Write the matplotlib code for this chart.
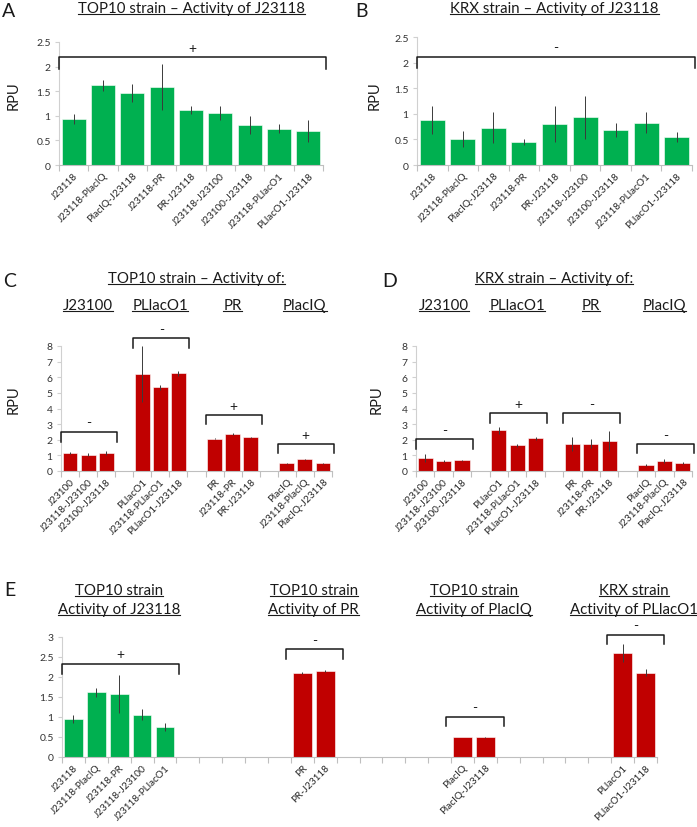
import numpy as np
import matplotlib
matplotlib.use("Agg")
import matplotlib.pyplot as plt
from matplotlib.lines import Line2D
from matplotlib.transforms import blended_transform_factory

plt.rcParams['font.family'] = ['Lato', 'DejaVu Sans']
plt.rcParams['text.color'] = '#1a1a1a'

GREEN = '#00B050'
RED = '#C00000'

# A / B : J23118 in every construct
j_labels = ['J23118', 'J23118-PlacIQ', 'PlacIQ-J23118', 'J23118-PR', 'PR-J23118',
            'J23118-J23100', 'J23100-J23118', 'J23118-PLlacO1', 'PLlacO1-J23118']
top10_rpu = [0.94, 1.62, 1.46, 1.58, 1.12, 1.06, 0.82, 0.74, 0.69]
top10_err = [0.10, 0.11, 0.18, 0.47, 0.08, 0.14, 0.18, 0.09, 0.23]
krx_rpu = [0.88, 0.51, 0.73, 0.45, 0.80, 0.93, 0.68, 0.83, 0.55]
krx_err = [0.28, 0.16, 0.30, 0.06, 0.36, 0.42, 0.14, 0.21, 0.10]

# C / D : the partner promoters
prom_names = ['J23100', 'PLlacO1', 'PR', 'PlacIQ']
prom_labels = [['J23100', 'J23118-J23100', 'J23100-J23118'],
               ['PLlacO1', 'J23118-PLlacO1', 'PLlacO1-J23118'],
               ['PR', 'J23118-PR', 'PR-J23118'],
               ['PlacIQ', 'J23118-PlacIQ', 'PlacIQ-J23118']]
top10_prom_rpu = [[1.15, 1.05, 1.15], [6.22, 5.35, 6.25], [2.08, 2.36, 2.15], [0.50, 0.74, 0.50]]
top10_prom_err = [[0.05, 0.12, 0.10], [1.80, 0.15, 0.18], [0.04, 0.08, 0.05], [0.03, 0.05, 0.03]]
top10_prom_sig = ['-', '-', '+', '+']
krx_prom_rpu = [[0.85, 0.65, 0.68], [2.60, 1.65, 2.10], [1.75, 1.75, 1.92], [0.37, 0.65, 0.50]]
krx_prom_err = [[0.25, 0.08, 0.05], [0.22, 0.10, 0.10], [0.45, 0.30, 0.65], [0.08, 0.15, 0.08]]
krx_prom_sig = ['-', '+', '-', '-']

# E : summary
e_titles = [['TOP10 strain', 'Activity of J23118'], ['TOP10 strain', 'Activity of PR'],
            ['TOP10 strain', 'Activity of PlacIQ'], ['KRX strain', 'Activity of PLlacO1']]
e_labels = [['J23118', 'J23118-PlacIQ', 'J23118-PR', 'J23118-J23100', 'J23118-PLlacO1'],
            ['PR', 'PR-J23118'], ['PlacIQ', 'PlacIQ-J23118'], ['PLlacO1', 'PLlacO1-J23118']]
e_rpu = [[0.95, 1.62, 1.58, 1.06, 0.75], [2.10, 2.15], [0.50, 0.49], [2.60, 2.11]]
e_err = [[0.10, 0.11, 0.47, 0.14, 0.09], [0.02, 0.02], [0.01, 0.01], [0.22, 0.09]]
e_sig = ['+', '-', '-', '-']
e_colors = [GREEN, RED, RED, RED]

W, H = 697, 828
fig = plt.figure(figsize=(W / 100, H / 100), dpi=100)
underline = []


def box(left, top, right, bottom):
    return [left / W, 1 - bottom / H, (right - left) / W, (bottom - top) / H]


def style(ax, ymax, step):
    ax.set_ylim(0, ymax)
    ax.set_yticks(np.arange(0, ymax + step / 2, step))
    ax.yaxis.set_major_formatter(plt.FuncFormatter(lambda v, p: '%g' % v))
    for s in ['top', 'right']:
        ax.spines[s].set_visible(False)
    ax.spines['left'].set_color('#D0D0D0')
    ax.spines['bottom'].set_color('#BFBFBF')
    ax.tick_params(axis='y', labelsize=7.5, length=3, color='#D0D0D0', labelcolor='#333333', pad=3)


def plot_groups(ax, labels, rpu, err, colors, gap):
    pos, names, spans = [], [], []
    start = 0
    for lab, val, e, c in zip(labels, rpu, err, colors):
        x = start + np.arange(len(lab))
        ax.bar(x, val, width=0.82, color=c, edgecolor='white', linewidth=0.4, zorder=2)
        ax.errorbar(x, val, yerr=e, fmt='none', ecolor='#3a3a3a', elinewidth=0.7, capsize=0, zorder=3)
        pos.extend(x)
        names.extend(lab)
        spans.append((x[0], x[-1]))
        start += len(lab) + gap
    n = start - gap
    ax.set_xlim(-0.5, n - 0.5)
    ax.set_xticks(np.arange(n + 1) - 0.5)
    ax.set_xticklabels([])
    ax.set_xticks(pos, minor=True)
    ax.set_xticklabels(names, minor=True, rotation=45, ha='right', rotation_mode='anchor',
                       fontsize=7.2, color='#262626')
    ax.tick_params(axis='x', which='minor', length=0, pad=4)
    ax.tick_params(axis='x', which='major', length=4, color='#BFBFBF')
    return spans


def bracket(ax, span, levels, sign):
    first, last = span
    half = max((last - first + 1) / 2 + 0.05, 1.25)
    mid = (first + last) / 2 + 0.05
    lo, hi = levels
    ax.plot([mid - half, mid - half, mid + half, mid + half], [lo, hi, hi, lo],
            color='#1a1a1a', lw=1.1, clip_on=False, zorder=4)
    ax.annotate(sign, (mid, hi), xytext=(0, 7), textcoords='offset points',
                ha='center', va='center', fontsize=10, annotation_clip=False)


def title(x, y, s, size, transform):
    t = fig.text(x, y, s, ha='center', va='baseline', fontsize=size, transform=transform)
    underline.append(t)


def letter(x, y, s):
    fig.text(x / W, 1 - y / H, s, fontsize=14, va='baseline', ha='left')


def rpu(x, y):
    fig.text(x / W, 1 - y / H, 'RPU', rotation=90, ha='center', va='center', fontsize=10.5)


# ---- A and B
for axbox, vals, errs, t, lv, sg, lx, rx in [
        (box(59, 43, 323, 166), top10_rpu, top10_err, 'TOP10 strain – Activity of J23118', (1.96, 2.19), '+', 2, 14),
        (box(417, 38, 692, 166), krx_rpu, krx_err, 'KRX strain – Activity of J23118', (1.89, 2.11), '-', 355, 375)]:
    ax = fig.add_axes(axbox)
    style(ax, 2.5, 0.5)
    plot_groups(ax, [j_labels], [vals], [errs], [GREEN], 0)
    bracket(ax, (0, len(vals) - 1), lv, sg)
    title(0.5, 1 - 13 / H, t, 10.8, blended_transform_factory(ax.transAxes, fig.transFigure))
    letter(lx, 17, 'A' if sg == '+' else 'B')
    rpu(rx, 96)

# ---- C and D
c_levels = [(1.88, 2.52), (7.9, 8.49), (3.0, 3.56), (1.17, 1.7)]
d_levels = [(1.39, 2.03), (3.09, 3.69), (3.09, 3.69), (1.13, 1.7)]
for axbox, vals, errs, sigs, levels, t, lx, rx, let in [
        (box(61, 347, 332, 472), top10_prom_rpu, top10_prom_err, top10_prom_sig, c_levels,
         'TOP10 strain – Activity of:', 3, 14, 'C'),
        (box(416, 347, 692, 472), krx_prom_rpu, krx_prom_err, krx_prom_sig, d_levels,
         'KRX strain – Activity of:', 382, 377, 'D')]:
    ax = fig.add_axes(axbox)
    style(ax, 8, 1)
    spans = plot_groups(ax, prom_labels, vals, errs, [RED] * 4, 1)
    tr = blended_transform_factory(ax.transData, fig.transFigure)
    for sp, lv, sg, nm in zip(spans, levels, sigs, prom_names):
        bracket(ax, sp, lv, sg)
        title((sp[0] + sp[1]) / 2, 1 - 310 / H, nm, 10.8, tr)
    title((spans[0][0] + spans[-1][1]) / 2, 1 - 283 / H, t, 10.8, tr)
    letter(lx, 287, let)
    rpu(rx, 400)

# ---- E
e_levels = [(2.07, 2.32), (2.46, 2.69), (0.77, 1.01), (2.82, 3.05)]
ax = fig.add_axes(box(62, 638, 657, 758))
style(ax, 3, 0.5)
spans = plot_groups(ax, e_labels, e_rpu, e_err, e_colors, 5)
tr = blended_transform_factory(ax.transData, fig.transFigure)
for sp, lv, sg, tl in zip(spans, e_levels, e_sig, e_titles):
    bracket(ax, sp, lv, sg)
    cx = (sp[0] + sp[1]) / 2
    title(cx, 1 - 595 / H, tl[0], 10.8, tr)
    title(cx, 1 - 614 / H, tl[1], 10.8, tr)
letter(4, 596, 'E')

# underline the titles
fig.canvas.draw()
r = fig.canvas.get_renderer()
for t in underline:
    bb = t.get_window_extent(r)
    yb = t.get_transform().transform(t.get_position())[1] - 2.2
    fig.add_artist(Line2D([bb.x0 / W, bb.x1 / W], [yb / H, yb / H], transform=fig.transFigure,
                          color='#1a1a1a', lw=0.8))

fig.savefig('out.png', dpi=100)
